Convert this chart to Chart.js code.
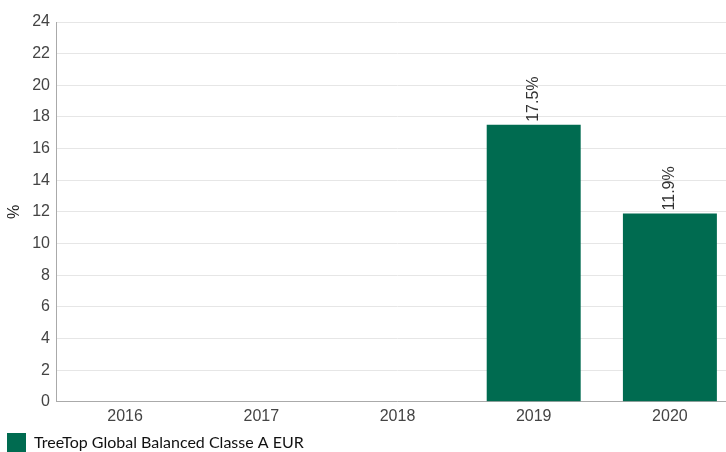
<!DOCTYPE html>
<html><head><meta charset="utf-8">
<script src="https://cdn.jsdelivr.net/npm/chart.js@4"></script>
<style>
html,body{margin:0;padding:0;overflow:hidden;background:#fff;}
#wrap{position:absolute;left:0;top:0;width:738px;height:463px;}
</style></head><body>
<div id="wrap"><canvas id="c"></canvas></div>
<script>
const categories = ["2016","2017","2018","2019","2020"];
const seriesName = "TreeTop Global Balanced Classe A EUR";
const seriesValues = [null, null, null, 17.5, 11.9];
const yTicks = [0,2,4,6,8,10,12,14,16,18,20,22,24];

const labelPlugin = {
  id:'barLabels',
  afterDatasetsDraw(chart){
    const ctx = chart.ctx;
    const meta = chart.getDatasetMeta(0);
    ctx.save();
    ctx.font = '16px "Liberation Sans", Arial, sans-serif';
    ctx.fillStyle = '#333';
    ctx.textAlign = 'left';
    ctx.textBaseline = 'middle';
    meta.data.forEach((el,i)=>{
      const v = seriesValues[i];
      if(v==null) return;
      ctx.save();
      ctx.translate(el.x, el.y - 3);
      ctx.rotate(-Math.PI/2);
      ctx.fillText(v.toFixed(1)+'%', 0, 0);
      ctx.restore();
    });
    ctx.restore();
  }
};

new Chart(document.getElementById('c'), {
  type:'bar',
  data:{labels:categories, datasets:[{label:seriesName, data:seriesValues, backgroundColor:'#006b50', borderWidth:0, categoryPercentage:1, barPercentage:0.69}]},
  options:{
    responsive:true, maintainAspectRatio:false, animation:false,
    devicePixelRatio:1,
    layout:{padding:{top:22,left:5,right:0,bottom:0}},
    plugins:{
      tooltip:{enabled:false},
      legend:{position:'bottom', align:'start',
        labels:{boxWidth:19, boxHeight:20, padding:2, color:'#111',
          font:{family:'Lato, sans-serif', size:16}}}
    },
    scales:{
      x:{grid:{display:false, drawTicks:false}, border:{color:'#aaa', width:1},
        ticks:{color:'#444', padding:5, font:{family:'"Liberation Sans", Arial, sans-serif', size:16}}},
      y:{min:0, max:24, afterBuildTicks(ax){ax.ticks = yTicks.map(v=>({value:v}));},
        grid:{color:'#e6e6e6', drawTicks:false}, border:{color:'#aaa', width:1},
        ticks:{color:'#444', padding:7, font:{family:'"Liberation Sans", Arial, sans-serif', size:16}},
        title:{display:true, text:'%', color:'#222', padding:{top:0,bottom:1}, font:{family:'"Liberation Sans", Arial, sans-serif', size:16}}}
    }
  },
  plugins:[labelPlugin]
});
</script></body></html>
